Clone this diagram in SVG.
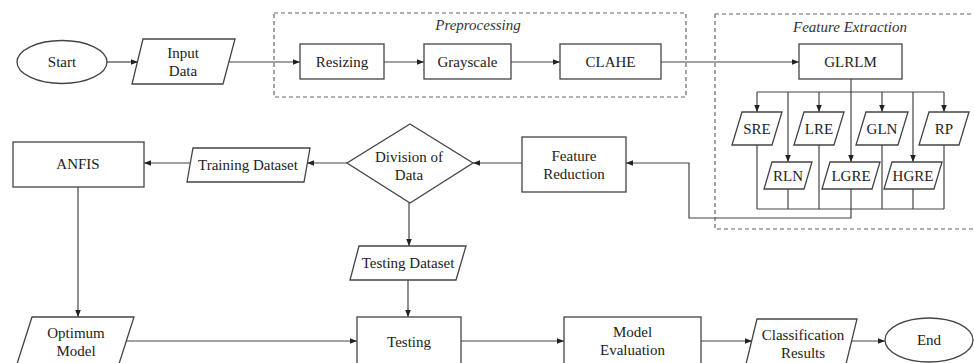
<svg xmlns="http://www.w3.org/2000/svg" width="974" height="363" viewBox="0 0 974 363">
<defs>
<marker id="ah" viewBox="0 0 10 10" refX="10" refY="5" markerWidth="7" markerHeight="7" orient="auto" markerUnits="userSpaceOnUse">
<path d="M0,1 L10,5 L0,9 z" fill="#222"/>
</marker>
<style>
.s{fill:#fff;stroke:#444;stroke-width:1.3}
.c{fill:none;stroke:#444;stroke-width:1.2}
.a{fill:none;stroke:#444;stroke-width:1.2;marker-end:url(#ah)}
.d{fill:none;stroke:#666;stroke-width:1.2;stroke-dasharray:4 3}
.t{font-family:"Liberation Serif","Tinos","Times New Roman","DejaVu Serif",serif;font-size:15px;fill:#222;text-anchor:middle}
.ti{font-family:"Liberation Serif","Tinos","Times New Roman","DejaVu Serif",serif;font-size:15px;font-style:italic;fill:#333;text-anchor:middle}
</style>
</defs>
<rect width="974" height="363" fill="#fff"/>
<g id="preprocessing-group">
<rect class="d" x="274" y="13" width="412" height="84"/>
<text class="ti" x="478" y="30">Preprocessing</text>
</g>
<g id="feature-extraction-group">
<rect class="d" x="715" y="14" width="270" height="215"/>
<text class="ti" x="850" y="32">Feature Extraction</text>
</g>

<g id="connectors">
<path class="a" d="M107,62 H138"/>
<path class="a" d="M229,62 H300"/>
<path class="a" d="M384,62 H424"/>
<path class="a" d="M511,62 H560"/>
<path class="a" d="M661,62 H799"/>
<path class="c" d="M851,79 V92 M757,92 H944"/>
<path class="a" d="M757,92 V112"/>
<path class="a" d="M819,92 V112"/>
<path class="a" d="M882,92 V112"/>
<path class="a" d="M944,92 V112"/>
<path class="a" d="M788,92 V162"/>
<path class="a" d="M851,92 V162"/>
<path class="a" d="M913,92 V162"/>
<path class="c" d="M757,145 V209 M819,145 V209 M882,145 V209 M944,145 V209 M788,189 V209 M913,189 V209 M757,209 H944"/>
<path class="a" d="M851,189 V218 H689 V163 H626"/>
<path class="a" d="M522,163 H473"/>
<path class="a" d="M347,163 H307"/>
<path class="a" d="M190,163 H144"/>
<path class="a" d="M78,187 V317"/>
<path class="a" d="M409,203 V246"/>
<path class="a" d="M408,280 V317"/>
<path class="a" d="M126,341 H357"/>
<path class="a" d="M461,341 H564"/>
<path class="a" d="M701,341 H752"/>
<path class="a" d="M852,341 H885"/>
</g>

<g id="start"><ellipse class="s" cx="62" cy="62" rx="45" ry="21.5"/><text class="t" x="62" y="67">Start</text></g>
<g id="input-data"><polygon class="s" points="143,39 235,39 223,84 132,84"/><text class="t" x="183" y="58">Input</text><text class="t" x="183" y="76">Data</text></g>
<g id="resizing"><rect class="s" x="300" y="44" width="84" height="35"/><text class="t" x="342" y="67">Resizing</text></g>
<g id="grayscale"><rect class="s" x="424" y="44" width="87" height="35"/><text class="t" x="467.5" y="67">Grayscale</text></g>
<g id="clahe"><rect class="s" x="560" y="44" width="101" height="35"/><text class="t" x="610.5" y="67">CLAHE</text></g>
<g id="glrlm"><rect class="s" x="799" y="44" width="103" height="35"/><text class="t" x="850.5" y="67">GLRLM</text></g>

<g id="sre"><polygon class="s" points="742,112 782,112 772,145 732,145"/><text class="t" x="757" y="134">SRE</text></g>
<g id="lre"><polygon class="s" points="804,112 844,112 834,145 794,145"/><text class="t" x="819" y="134">LRE</text></g>
<g id="gln"><polygon class="s" points="866,112 908,112 898,145 856,145"/><text class="t" x="882" y="134">GLN</text></g>
<g id="rp"><polygon class="s" points="929,112 969,112 959,145 919,145"/><text class="t" x="944" y="134">RP</text></g>
<g id="rln"><polygon class="s" points="772,162 812,162 804,189 764,189"/><text class="t" x="788" y="181">RLN</text></g>
<g id="lgre"><polygon class="s" points="830,162 880,162 872,189 822,189"/><text class="t" x="851" y="181">LGRE</text></g>
<g id="hgre"><polygon class="s" points="892,162 942,162 934,189 884,189"/><text class="t" x="913" y="181">HGRE</text></g>

<g id="feature-reduction"><rect class="s" x="522" y="137" width="104" height="55"/><text class="t" x="574" y="161">Feature</text><text class="t" x="574" y="179">Reduction</text></g>
<g id="division-of-data"><polygon class="s" points="410,124 473,163 410,203 347,163"/><text class="t" x="409" y="162">Division of</text><text class="t" x="409" y="180">Data</text></g>
<g id="training-dataset"><polygon class="s" points="193,148 310,148 304,182 187,182"/><text class="t" x="248" y="170">Training Dataset</text></g>
<g id="anfis"><rect class="s" x="13" y="142" width="131" height="45"/><text class="t" x="78" y="169">ANFIS</text></g>
<g id="testing-dataset"><polygon class="s" points="359,246 466,246 456,280 350,280"/><text class="t" x="408" y="268">Testing Dataset</text></g>
<g id="optimum-model"><polygon class="s" points="32,317 134,317 118,367 16,367"/><text class="t" x="76" y="338">Optimum</text><text class="t" x="76" y="356">Model</text></g>
<g id="testing"><rect class="s" x="357" y="317" width="104" height="60"/><text class="t" x="409" y="347">Testing</text></g>
<g id="model-evaluation"><rect class="s" x="564" y="317" width="137" height="60"/><text class="t" x="632.5" y="337">Model</text><text class="t" x="632.5" y="355">Evaluation</text></g>
<g id="classification-results"><polygon class="s" points="757,319 857,319 846,364 746,364"/><text class="t" x="803" y="340">Classification</text><text class="t" x="803" y="358">Results</text></g>
<g id="end"><ellipse class="s" cx="929" cy="340" rx="44" ry="22"/><text class="t" x="929" y="345">End</text></g>
</svg>
